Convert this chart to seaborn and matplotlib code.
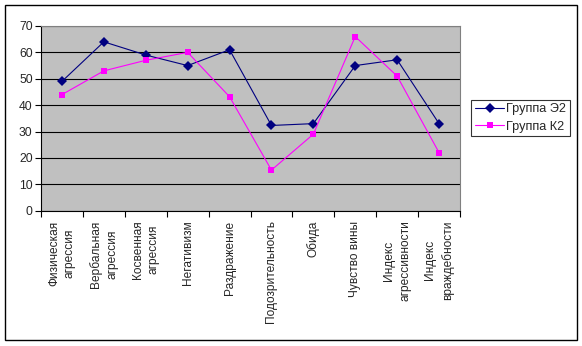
import numpy as np
import pandas as pd
import seaborn as sns
import matplotlib
matplotlib.use("Agg")
import matplotlib.pyplot as plt
from matplotlib.patches import Rectangle

categories = [
    "Физическая\nагрессия",
    "Вербальная\nагрессия",
    "Косвенная\nагрессия",
    "Негативизм",
    "Раздражение",
    "Подозрительность",
    "Обида",
    "Чувство вины",
    "Индекс\nагрессивности",
    "Индекс\nвраждебности",
]
group_e2 = [49, 64, 59, 55, 61, 32.3, 33, 55, 57.2, 33]
group_k2 = [44, 53, 57, 60, 43.2, 15.4, 29, 66, 51, 22]
series_names = ["Группа Э2", "Группа К2"]

sns.set_theme(style="white")
plt.rcParams["font.family"] = ["Liberation Sans", "DejaVu Sans"]

df = pd.DataFrame({
    "pos": list(np.arange(len(categories)) + 0.5) * 2,
    "value": group_e2 + group_k2,
    "group": [series_names[0]] * len(categories) + [series_names[1]] * len(categories),
})

W, H = 582, 346
fig = plt.figure(figsize=(W / 100, H / 100), dpi=100)
ax = fig.add_axes([41 / W, 1 - 210.7 / H, 419 / W, 184.7 / H])
ax.set_facecolor("#C0C0C0")

palette = {series_names[0]: "#000080", series_names[1]: "#FF00FF"}
markers = {series_names[0]: "D", series_names[1]: "s"}
sns.lineplot(data=df, x="pos", y="value", hue="group", style="group",
             palette=palette, markers=markers, dashes=False, ax=ax,
             linewidth=0.8, markersize=5, markeredgewidth=0, legend=True)

ax.set_xlim(0, len(categories))
ax.set_ylim(0, 70)
ax.set_yticks(range(0, 71, 10))
ax.set_xticks(range(0, len(categories) + 1))
ax.set_xticklabels([])
ax.set_xticks(np.arange(len(categories)) + 0.5, minor=True)
ax.set_xticklabels(categories, minor=True, rotation=90, ha="center", va="top",
                   multialignment="center", fontsize=8.6)
for lbl in ax.get_xticklabels(minor=True):
    lbl.set_linespacing(1.45)
ax.tick_params(axis="x", which="minor", length=0, pad=7)
ax.tick_params(axis="x", which="major", direction="out", length=4, width=0.8,
               color="black", bottom=True)
ax.tick_params(axis="y", direction="out", length=4, width=0.8, color="black",
               left=True, labelsize=8.7, pad=2)
ax.set_xlabel("")
ax.set_ylabel("")
ax.yaxis.grid(True, color="black", linewidth=0.8)
ax.set_axisbelow(True)
for side in ["left", "bottom"]:
    ax.spines[side].set_color("black")
    ax.spines[side].set_linewidth(0.8)
for side in ["top", "right"]:
    ax.spines[side].set_color("#808080")
    ax.spines[side].set_linewidth(0.8)

handles, labels = ax.get_legend_handles_labels()
ax.legend_.remove()
leg = fig.legend(handles, labels, loc="center left",
                 bbox_to_anchor=(471 / W, 1 - 118 / H), fontsize=9.2,
                 frameon=True, fancybox=False, edgecolor="black",
                 handlelength=2.3, handletextpad=0.15, borderpad=0.3,
                 labelspacing=0.4, borderaxespad=0)
leg.get_frame().set_linewidth(0.8)

fig.patches.append(Rectangle((5 / W, 1 - 340 / H), 572 / W, 335 / H,
                             transform=fig.transFigure, fill=False,
                             edgecolor="black", linewidth=1))

fig.savefig("out.png", dpi=100)
